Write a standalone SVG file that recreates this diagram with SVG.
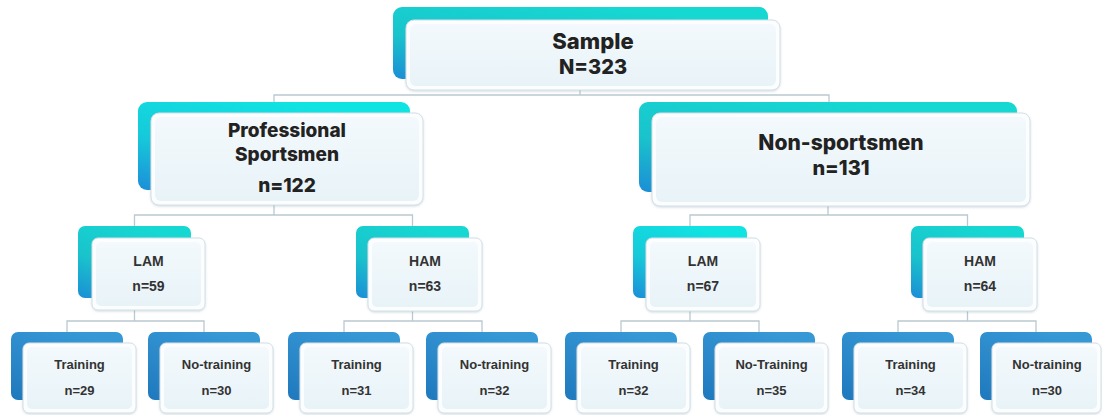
<svg xmlns="http://www.w3.org/2000/svg" width="1102" height="415" viewBox="0 0 1102 415">
<defs>
<linearGradient id="gTeal" x1="0.6" y1="0" x2="0" y2="1">
<stop offset="0" stop-color="#16d8d2"/>
<stop offset="0.55" stop-color="#19c3cc"/>
<stop offset="1" stop-color="#1b8ed6"/>
</linearGradient>
<linearGradient id="gCyan" x1="0.6" y1="0" x2="0" y2="1">
<stop offset="0" stop-color="#10e4e2"/>
<stop offset="0.55" stop-color="#16c9da"/>
<stop offset="1" stop-color="#1c8ed8"/>
</linearGradient>
<linearGradient id="gBlue" x1="0.6" y1="0" x2="0" y2="1">
<stop offset="0" stop-color="#3798d6"/>
<stop offset="1" stop-color="#1f79bd"/>
</linearGradient>
<linearGradient id="gFront" x1="0" y1="0" x2="0" y2="1">
<stop offset="0" stop-color="#f3f9fc"/>
<stop offset="1" stop-color="#e8f3f8"/>
</linearGradient>
<filter id="sh" x="-10%" y="-10%" width="120%" height="130%">
<feDropShadow dx="0" dy="1" stdDeviation="1.2" flood-color="#7a9aaa" flood-opacity="0.35"/>
</filter>
</defs>
<style>
.bt{fill:url(#gTeal)}
.bc{fill:url(#gCyan)}
.bb{fill:url(#gBlue)}
.fr{fill:#fbfdfe;stroke:#d3e0e7;stroke-width:1;filter:url(#sh)}
.in{fill:url(#gFront)}
.big{font-family:Inter,"Open Sans","Liberation Sans",sans-serif;font-weight:800;fill:#222;text-anchor:middle}
.sm{font-family:"Liberation Sans",Arial,sans-serif;font-weight:700;font-size:13px;fill:#333;text-anchor:middle}
.s2{font-size:14px}
.cn{fill:none;stroke:#b9c9d1;stroke-width:1.3}
</style>
<g id="connectors">
<path class="cn" d="M580 88V95M274 102V95H829V102"/>
<path class="cn" d="M274 190V215M134.5 226V215H412.5V226"/>
<path class="cn" d="M828 192V215M690 226V215H967.5V226"/>
<path class="cn" d="M134.5 298V321M67 332V321H204V332"/>
<path class="cn" d="M412.5 298V321M344 332V321H482V332"/>
<path class="cn" d="M690 298V321M621 332V321H759V332"/>
<path class="cn" d="M967.5 298V321M898 332V321H1036V332"/>
</g>
<g id="root">
<rect class="bt" x="393" y="7" width="375" height="72" rx="9"/>
<rect class="fr" x="406" y="20" width="374" height="70" rx="8"/>
<rect class="in" x="410" y="24" width="366" height="62" rx="6"/>
<text class="big" x="593" y="49" font-size="22">Sample</text>
<text class="big" x="593" y="74" font-size="20">N=323</text>
</g>
<g id="prof">
<rect class="bc" x="138" y="102" width="272" height="88" rx="9"/>
<rect class="fr" x="151" y="113" width="272" height="92" rx="8"/>
<rect class="in" x="155" y="117" width="264" height="84" rx="6"/>
<text class="big" x="287" y="137" font-size="19">Professional</text>
<text class="big" x="287" y="161" font-size="19">Sportsmen</text>
<text class="big" x="287" y="192" font-size="19">n=122</text>
</g>
<g id="non">
<rect class="bt" x="639" y="102" width="378" height="90" rx="9"/>
<rect class="fr" x="652" y="113" width="378" height="93" rx="8"/>
<rect class="in" x="656" y="117" width="370" height="85" rx="6"/>
<text class="big" x="841" y="150" font-size="21">Non-sportsmen</text>
<text class="big" x="841" y="175" font-size="20">n=131</text>
</g>
<g id="lam1">
<rect class="bt" x="78" y="226" width="113" height="72" rx="7"/>
<rect class="fr" x="92" y="238" width="113" height="72" rx="6"/>
<rect class="in" x="96" y="242" width="105" height="64" rx="5"/>
<text class="sm s2" x="148.5" y="266">LAM</text>
<text class="sm s2" x="148.5" y="291">n=59</text>
</g>
<g id="ham1">
<rect class="bt" x="356" y="226" width="113" height="72" rx="7"/>
<rect class="fr" x="368" y="238" width="114" height="73" rx="6"/>
<rect class="in" x="372" y="242" width="106" height="65" rx="5"/>
<text class="sm s2" x="425" y="266">HAM</text>
<text class="sm s2" x="425" y="291">n=63</text>
</g>
<g id="lam2">
<rect class="bc" x="633" y="226" width="114" height="72" rx="7"/>
<rect class="fr" x="646" y="238" width="114" height="73" rx="6"/>
<rect class="in" x="650" y="242" width="106" height="65" rx="5"/>
<text class="sm s2" x="703" y="266">LAM</text>
<text class="sm s2" x="703" y="291">n=67</text>
</g>
<g id="ham2">
<rect class="bt" x="911" y="226" width="113" height="72" rx="7"/>
<rect class="fr" x="923" y="238" width="114" height="73" rx="6"/>
<rect class="in" x="927" y="242" width="106" height="65" rx="5"/>
<text class="sm s2" x="980" y="266">HAM</text>
<text class="sm s2" x="980" y="291">n=64</text>
</g>
<g id="train1">
<rect class="bb" x="11" y="332" width="112" height="68" rx="7"/>
<rect class="fr" x="23" y="343" width="113" height="70" rx="6"/>
<rect class="in" x="27" y="347" width="105" height="62" rx="5"/>
<text class="sm" x="79.5" y="369">Training</text>
<text class="sm" x="79.5" y="395">n=29</text>
</g>
<g id="notrain1">
<rect class="bb" x="148" y="332" width="112" height="68" rx="7"/>
<rect class="fr" x="160" y="343" width="113" height="70" rx="6"/>
<rect class="in" x="164" y="347" width="105" height="62" rx="5"/>
<text class="sm" x="216.5" y="369">No-training</text>
<text class="sm" x="216.5" y="395">n=30</text>
</g>
<g id="train2">
<rect class="bb" x="288" y="332" width="112" height="68" rx="7"/>
<rect class="fr" x="300" y="343" width="113" height="70" rx="6"/>
<rect class="in" x="304" y="347" width="105" height="62" rx="5"/>
<text class="sm" x="356.5" y="369">Training</text>
<text class="sm" x="356.5" y="395">n=31</text>
</g>
<g id="notrain2">
<rect class="bb" x="426" y="332" width="112" height="68" rx="7"/>
<rect class="fr" x="438" y="343" width="113" height="70" rx="6"/>
<rect class="in" x="442" y="347" width="105" height="62" rx="5"/>
<text class="sm" x="494.5" y="369">No-training</text>
<text class="sm" x="494.5" y="395">n=32</text>
</g>
<g id="train3">
<rect class="bb" x="565" y="332" width="112" height="68" rx="7"/>
<rect class="fr" x="577" y="343" width="113" height="70" rx="6"/>
<rect class="in" x="581" y="347" width="105" height="62" rx="5"/>
<text class="sm" x="633.5" y="369">Training</text>
<text class="sm" x="633.5" y="395">n=32</text>
</g>
<g id="notrain3">
<rect class="bb" x="703" y="332" width="112" height="68" rx="7"/>
<rect class="fr" x="715" y="343" width="113" height="70" rx="6"/>
<rect class="in" x="719" y="347" width="105" height="62" rx="5"/>
<text class="sm" x="771.5" y="369">No-Training</text>
<text class="sm" x="771.5" y="395">n=35</text>
</g>
<g id="train4">
<rect class="bb" x="842" y="332" width="112" height="68" rx="7"/>
<rect class="fr" x="854" y="343" width="113" height="70" rx="6"/>
<rect class="in" x="858" y="347" width="105" height="62" rx="5"/>
<text class="sm" x="910.5" y="369">Training</text>
<text class="sm" x="910.5" y="395">n=34</text>
</g>
<g id="notrain4">
<rect class="bb" x="980" y="332" width="112" height="68" rx="7"/>
<rect class="fr" x="992" y="343" width="109" height="70" rx="6"/>
<rect class="in" x="996" y="347" width="101" height="62" rx="5"/>
<text class="sm" x="1047" y="369">No-training</text>
<text class="sm" x="1047" y="395">n=30</text>
</g>
</svg>
